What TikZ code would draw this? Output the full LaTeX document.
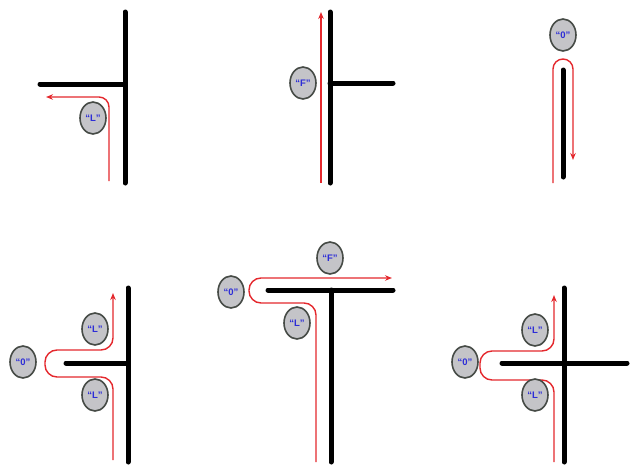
\documentclass[tikz,border=0pt]{standalone}
\usepackage{fontspec}
\setmainfont{Liberation Sans}
\usetikzlibrary{arrows.meta,shapes.geometric}
\definecolor{routered}{RGB}{228,40,45}
\definecolor{tagfill}{RGB}{196,196,200}
\definecolor{tagdraw}{RGB}{70,75,70}
\definecolor{tagtext}{RGB}{45,45,215}
\begin{document}
\begin{tikzpicture}[x=1pt,y=-1pt,
  bar/.style={line width=5pt,line cap=round},
  route/.style={draw=routered,line width=1.4pt,-{Stealth[length=7pt,width=5.5pt]}},
  tag/.style={ellipse,draw=tagdraw,line width=1.6pt,fill=tagfill,minimum width=26pt,minimum height=32pt,inner sep=0pt,text=tagtext,font=\fontsize{9.5}{10}\selectfont\bfseries}]
\useasboundingbox (0,0) rectangle (632,466);
% panel 1
\draw[bar] (125,12) -- (125,183);
\draw[bar] (40,84) -- (125,84);
\draw[route,rounded corners=10pt] (109,181) -- (109,97) -- (46,97);
\node[tag] (p1l) at (93,118) {“L”};
% panel 2
\draw[bar] (330,12) -- (330,183);
\draw[bar] (330,83) -- (393,83);
\draw[route] (321,183) -- (321,12);
\node[tag] (p2f) at (303,83) {“F”};
% panel 3
\draw[bar] (563,70) -- (563,177);
\draw[route,rounded corners=10pt] (553,183) -- (553,59) -- (573,59) -- (573,160);
\node[tag] (p3o) at (563,35) {“0”};
% panel 4
\draw[bar] (128,288) -- (128,462);
\draw[bar] (66,363) -- (128,363);
\draw[route,rounded corners=12pt] (113,460) -- (113,377) -- (45,377) -- (45,350) -- (113,350) -- (113,293);
\node[tag] (p4la) at (95,329) {“L”};
\node[tag] (p4o) at (23,362) {“0”};
\node[tag] (p4lb) at (95,395) {“L”};
% panel 5
\draw[bar] (268,290) -- (393,290);
\draw[bar] (331,290) -- (331,462);
\draw[route,rounded corners=12pt] (316,462) -- (316,303) -- (249,303) -- (249,278) -- (392,278);
\node[tag] (p5f) at (330,258) {“F”};
\node[tag] (p5o) at (231,292) {“0”};
\node[tag] (p5l) at (297,323) {“L”};
% panel 6
\draw[bar] (564,288) -- (564,462);
\draw[bar] (502,363) -- (627,363);
\draw[route,rounded corners=12pt] (554,462) -- (554,380) -- (480,380) -- (480,351) -- (554,351) -- (554,295);
\node[tag] (p6la) at (535,330) {“L”};
\node[tag] (p6o) at (465,362) {“0”};
\node[tag] (p6lb) at (535,395) {“L”};
\end{tikzpicture}
\end{document}
